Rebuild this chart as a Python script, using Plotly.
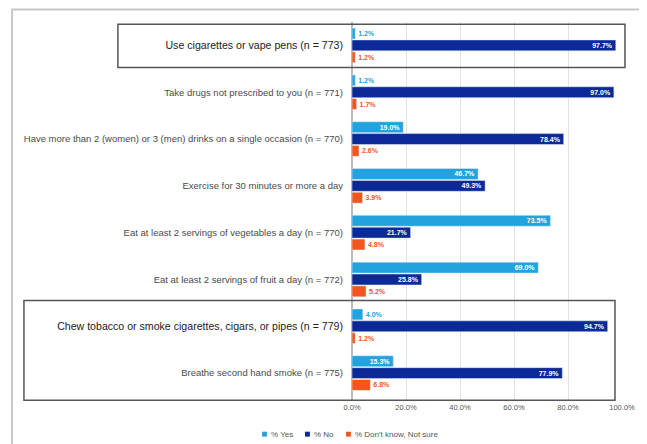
import plotly.graph_objects as go

# survey items, top to bottom
items = [
    "Use cigarettes or vape pens (n = 773)",
    "Take drugs not prescribed to you (n = 771)",
    "Have more than 2 (women) or 3 (men) drinks on a single occasion (n = 770)",
    "Exercise for 30 minutes or more a day",
    "Eat at least 2 servings of vegetables a day (n = 770)",
    "Eat at least 2 servings of fruit a day (n = 772)",
    "Chew tobacco or smoke cigarettes, cigars, or pipes (n = 779)",
    "Breathe second hand smoke (n = 775)",
]
highlighted = [0, 6]

pct_yes = [1.2, 1.2, 19.0, 46.7, 73.5, 69.0, 4.0, 15.3]
pct_no = [97.7, 97.0, 78.4, 49.3, 21.7, 25.8, 94.7, 77.9]
pct_dk = [1.2, 1.7, 2.6, 3.9, 4.8, 5.2, 1.2, 6.8]

tick_vals = [0, 20, 40, 60, 80, 100]
tick_text = ["0.0%", "20.0%", "40.0%", "60.0%", "80.0%", "100.0%"]

series = [
    ("% Yes", pct_yes, "#23A3DD"),
    ("% No", pct_no, "#0B2A97"),
    ("% Don't know, Not sure", pct_dk, "#F0561E"),
]

fig = go.Figure()
for name, vals, col in series:
    pos = ["inside" if v > 10 else "outside" for v in vals]
    fig.add_trace(go.Bar(
        y=items, x=vals, name=name, orientation="h",
        marker_color=col, showlegend=False,
        text=[f"<b>{v:.1f}%</b>" for v in vals],
        textposition=pos, insidetextanchor="end", textangle=0,
        constraintext="none",
        insidetextfont=dict(color="white", size=7, family="Liberation Sans"),
        outsidetextfont=dict(color=col, size=7, family="Liberation Sans"),
        cliponaxis=False,
    ))

labels = []
for i, t in enumerate(items):
    if i in highlighted:
        labels.append(f'<span style="font-size:10.6px;fill:#222222">{t}</span>')
    else:
        labels.append(t)

fig.update_layout(
    width=639, height=436,
    margin=dict(l=344, r=25, t=14, b=43, autoexpand=False),
    barmode="group", bargap=0.24, bargroupgap=0.08,
    plot_bgcolor="white", paper_bgcolor="white",
    font=dict(family="Liberation Sans", size=9.5, color="#4a4a4a"),
    xaxis=dict(range=[0, 100], tickvals=tick_vals, ticktext=tick_text,
               showgrid=True, gridcolor="#e2e2e2", gridwidth=1,
               zeroline=True, zerolinecolor="#bbbbbb", automargin=False,
               tickfont=dict(size=7.5, color="#555555")),
    yaxis=dict(autorange="reversed", tickvals=items, ticktext=labels, automargin=False,
               ticks="", ticklabelstandoff=8, tickfont=dict(size=9.5, color="#4a4a4a")),
)

# legend drawn below the axis: small square plus label per series
legend_x = [-0.333, -0.174, -0.022]
for (name, vals, col), lx in zip(series, legend_x):
    fig.add_shape(type="rect", xref="paper", yref="paper",
                  x0=lx, x1=lx + 0.018, y0=-0.094, y1=-0.081,
                  fillcolor=col, line_width=0)
    fig.add_annotation(text=name, xref="paper", yref="paper", x=lx + 0.024, y=-0.0875,
                       xanchor="left", yanchor="middle", showarrow=False,
                       font=dict(size=8, color="#555555"))

# highlight boxes around two items and outer frame
fig.add_shape(type="rect", xref="paper", yref="y", x0=-0.867, x1=1.011, y0=-0.45, y1=0.47,
              line=dict(color="#555555", width=1.5))
fig.add_shape(type="rect", xref="paper", yref="y", x0=-1.215, x1=0.974, y0=5.45, y1=7.58,
              line=dict(color="#555555", width=1.5))
fig.add_shape(type="rect", xref="paper", yref="paper", x0=-1.259, x1=1.078, y0=-0.2, y1=1.033,
              line=dict(color="#c8c8c8", width=2))

fig.write_html("out.html")
